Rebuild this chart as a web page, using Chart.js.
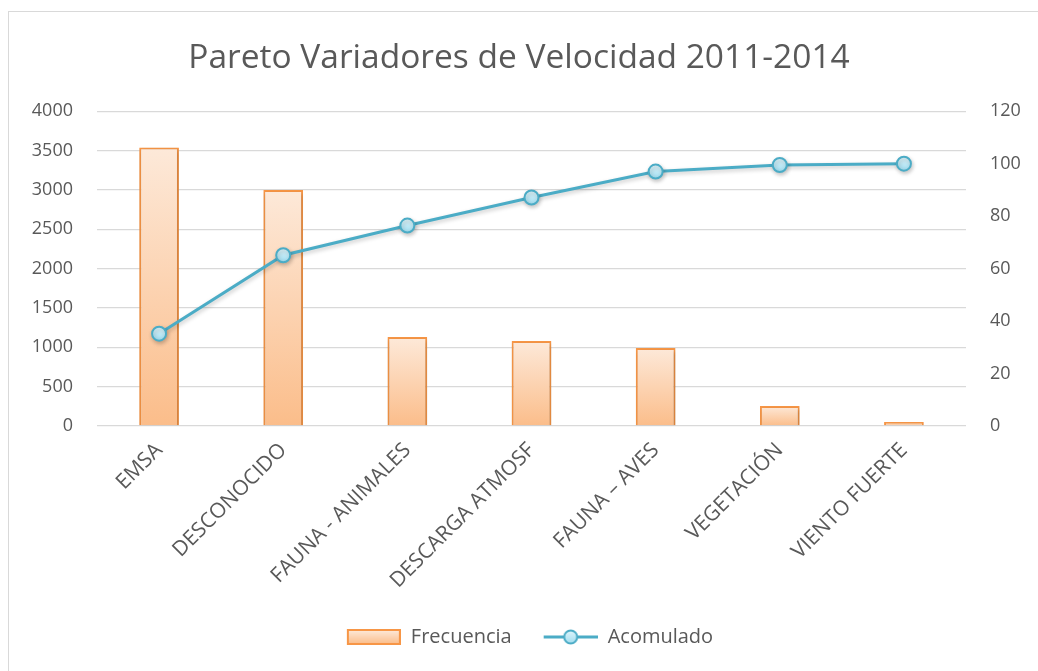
<!DOCTYPE html>
<html>
<head>
<meta charset="utf-8">
<title>Pareto Variadores de Velocidad 2011-2014</title>
<script src="https://cdn.jsdelivr.net/npm/chart.js@4.4.1/dist/chart.umd.min.js"></script>
<style>
    html, body { margin: 0; padding: 0; background: #fff; overflow: hidden; }
    #marco { position: absolute; left: 8px; top: 11px; width: 1100px; height: 720px; border: 1px solid #d9d9d9; }
    #contenedor { position: absolute; left: 0; top: 0; width: 1038px; height: 671px; }
</style>
</head>
<body>
<div id="marco"></div>
<div id="contenedor"><canvas id="pareto"></canvas></div>
<script>
    "use strict";

    // Datos
    var categorias = ['EMSA', 'DESCONOCIDO', 'FAUNA - ANIMALES', 'DESCARGA ATMOSF', 'FAUNA – AVES', 'VEGETACIÓN', 'VIENTO FUERTE'];
    var frecuencia = [3540, 3000, 1130, 1080, 990, 255, 50];
    var acumulado = [35.2, 65.1, 76.4, 87.1, 97.0, 99.5, 100];
    var ticksFrecuencia = { min: 0, max: 4000, paso: 500 };
    var ticksAcumulado = { min: 0, max: 120, paso: 20 };

    var gris = '#595959';
    var naranja = '#f79646';
    var azul = '#4bacc6';
    var fuente = 'Open Sans';

    // Degradado de cada barra (claro arriba, mas oscuro abajo)
    function rellenoBarra(context) {
        var chart = context.chart;
        if (!chart.chartArea || !chart.scales.y) {
            return '#fcd5b4';
        }
        var y = chart.scales.y;
        var arriba = y.getPixelForValue(context.raw);
        var abajo = y.getPixelForValue(0);
        if (!isFinite(arriba) || arriba === abajo) {
            return '#fcd5b4';
        }
        var g = chart.ctx.createLinearGradient(0, arriba, 0, abajo);
        g.addColorStop(0, '#fde9d9');
        g.addColorStop(1, '#fbbd8a');
        return g;
    }

    // Relleno de los puntos
    function rellenoPunto(context) {
        var chart = context.chart;
        if (!chart.chartArea || !chart.scales.y1) {
            return '#c6eef9';
        }
        var py = chart.scales.y1.getPixelForValue(context.raw);
        if (!isFinite(py)) {
            return '#c6eef9';
        }
        var g = chart.ctx.createLinearGradient(0, py - 7, 0, py + 7);
        g.addColorStop(0, '#e2f7fd');
        g.addColorStop(1, '#9fdcef');
        return g;
    }

    // Iconos de la leyenda
    function iconoBarra() {
        var c = document.createElement('canvas');
        c.width = 76;
        c.height = 18;
        var g = c.getContext('2d');
        var grad = g.createLinearGradient(0, 2, 0, 16);
        grad.addColorStop(0, '#fde9d9');
        grad.addColorStop(1, '#fbbd8a');
        g.fillStyle = grad;
        g.fillRect(23, 2, 52, 14);
        g.strokeStyle = naranja;
        g.lineWidth = 2;
        g.strokeRect(23, 2, 52, 14);
        return c;
    }

    function iconoLinea() {
        var c = document.createElement('canvas');
        c.width = 76;
        c.height = 18;
        var g = c.getContext('2d');
        g.strokeStyle = azul;
        g.lineWidth = 3;
        g.beginPath();
        g.moveTo(22, 9);
        g.lineTo(76, 9);
        g.stroke();
        var grad = g.createLinearGradient(0, 2, 0, 16);
        grad.addColorStop(0, '#e2f7fd');
        grad.addColorStop(1, '#9fdcef');
        g.fillStyle = grad;
        g.lineWidth = 2;
        g.beginPath();
        g.arc(49, 9, 6.5, 0, Math.PI * 2);
        g.fill();
        g.stroke();
        return c;
    }

    // Sombra suave bajo barras y linea
    var sombra = {
        id: 'sombra',
        beforeDatasetsDraw: function (chart) {
            var c = chart.ctx;
            c.save();
            c.shadowColor = 'rgba(0, 0, 0, 0.22)';
            c.shadowBlur = 4;
            c.shadowOffsetX = 1;
            c.shadowOffsetY = 2;
        },
        afterDatasetsDraw: function (chart) {
            chart.ctx.restore();
        }
    };

    var ctx = document.getElementById('pareto').getContext('2d');
    var grafico = new Chart(ctx, {
        type: 'bar',
        data: {
            labels: categorias,
            datasets: [{
                label: 'Frecuencia',
                data: frecuencia,
                yAxisID: 'y',
                order: 1,
                backgroundColor: rellenoBarra,
                borderColor: naranja,
                borderWidth: 2,
                barPercentage: 0.64,
                categoryPercentage: 0.5
            },
            {
                type: 'line',
                label: 'Acomulado',
                data: acumulado,
                yAxisID: 'y1',
                order: 0,
                borderColor: azul,
                borderWidth: 3,
                tension: 0,
                pointRadius: 7,
                pointBorderWidth: 2,
                pointBorderColor: azul,
                pointBackgroundColor: rellenoPunto
            }]
        },
        options: {
            responsive: true,
            maintainAspectRatio: false,
            animation: false,
            layout: { padding: { left: 0, right: 0, top: 0, bottom: 14 } },
            plugins: {
                title: {
                    display: true,
                    text: 'Pareto Variadores de Velocidad 2011-2014',
                    color: gris,
                    font: { family: fuente, size: 33.5, weight: 'normal' },
                    padding: { top: 38, bottom: 33 }
                },
                legend: {
                    position: 'bottom',
                    labels: {
                        color: gris,
                        font: { family: fuente, size: 20 },
                        usePointStyle: true,
                        pointStyleWidth: 76,
                        boxHeight: 18,
                        padding: 10,
                        generateLabels: function () {
                            return [
                                { text: 'Frecuencia', pointStyle: iconoBarra(), datasetIndex: 0, fontColor: gris, lineWidth: 0 },
                                { text: 'Acomulado', pointStyle: iconoLinea(), datasetIndex: 1, fontColor: gris, lineWidth: 0 }
                            ];
                        }
                    }
                },
                tooltip: { enabled: false }
            },
            scales: {
                x: {
                    grid: { display: false },
                    border: { display: false },
                    ticks: {
                        color: gris,
                        font: { family: fuente, size: 21 },
                        minRotation: 45,
                        maxRotation: 45,
                        padding: 4
                    },
                    afterFit: function (s) { s.height = 191; }
                },
                y: {
                    position: 'left',
                    min: ticksFrecuencia.min,
                    max: ticksFrecuencia.max,
                    ticks: {
                        stepSize: ticksFrecuencia.paso,
                        color: gris,
                        padding: 24,
                        font: { family: fuente, size: 18 },
                        callback: function (v) { return String(v); }
                    },
                    grid: { color: '#d9d9d9', lineWidth: 1.3, drawTicks: false },
                    border: { display: false },
                    afterFit: function (s) { s.width = 97; }
                },
                y1: {
                    position: 'right',
                    min: ticksAcumulado.min,
                    max: ticksAcumulado.max,
                    ticks: {
                        stepSize: ticksAcumulado.paso,
                        color: gris,
                        padding: 24,
                        font: { family: fuente, size: 18 },
                        callback: function (v) { return String(v); }
                    },
                    grid: { display: false, drawTicks: false },
                    border: { display: false },
                    afterFit: function (s) { s.width = 72; }
                }
            }
        },
        plugins: [sombra]
    });
</script>
</body>
</html>
